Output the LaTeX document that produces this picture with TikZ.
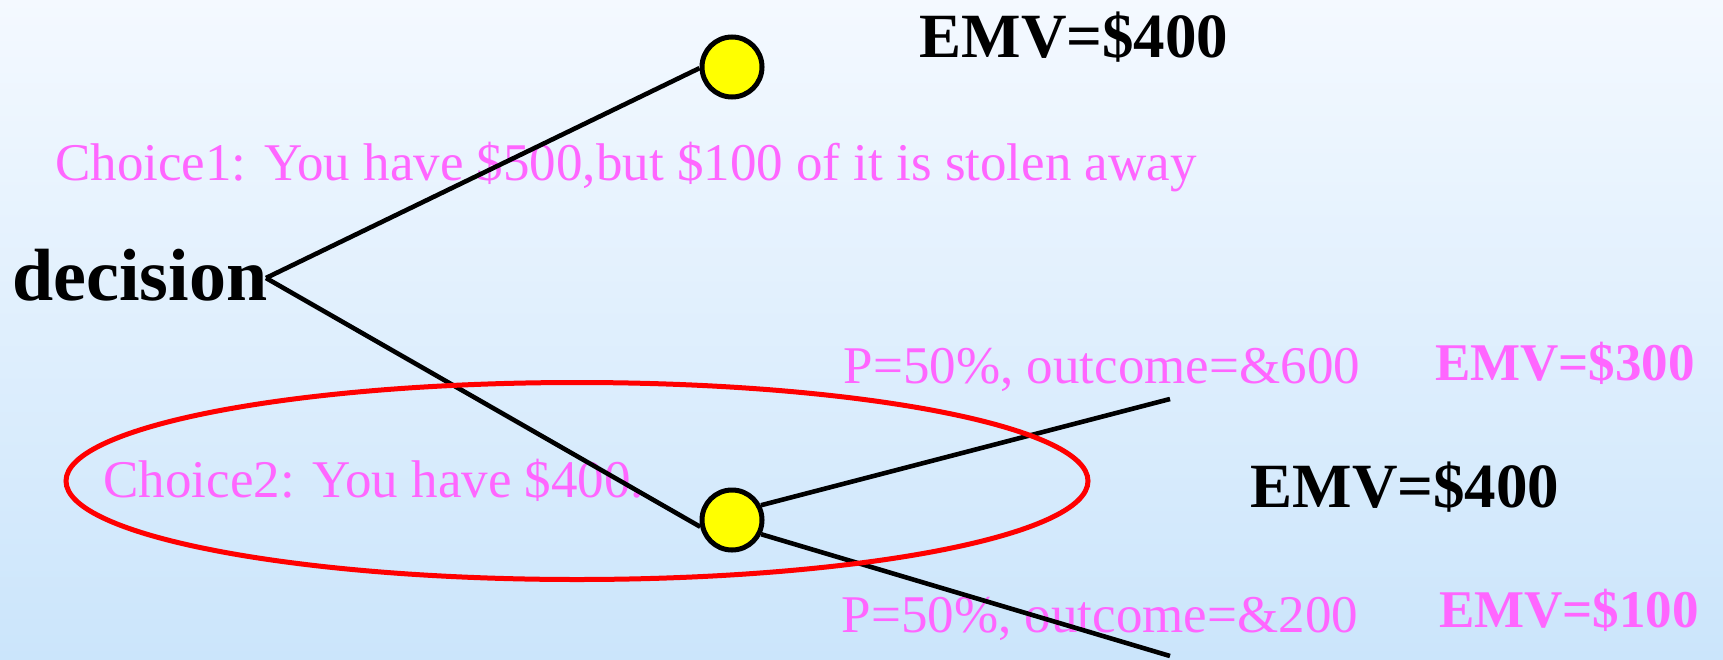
\documentclass[tikz,border=0pt]{standalone}
\usepackage{fontspec}
\setmainfont{Liberation Serif}
\definecolor{pinktxt}{HTML}{FF66FF}
\definecolor{bgtop}{HTML}{F4F9FF}
\definecolor{bgbot}{HTML}{CBE5FB}
\definecolor{chance}{HTML}{FFFF00}
\begin{document}
\begin{tikzpicture}[x=0.5pt,y=-0.5pt,
  regtext/.style={inner sep=0pt, text=pinktxt, font=\fontsize{26.5pt}{30pt}\selectfont},
  emvpink/.style={inner sep=0pt, text=pinktxt, font=\fontsize{26.5pt}{30pt}\selectfont\bfseries},
  emvblack/.style={inner sep=0pt, text=black, font=\fontsize{31.5pt}{36pt}\selectfont\bfseries},
  chancenode/.style={circle, draw=black, line width=2.5pt, fill=chance, minimum size=30pt, inner sep=0pt},
  branch/.style={draw=black, line width=2.3pt},
  groupring/.style={draw=red, line width=2.5pt}]
\useasboundingbox (0,0) rectangle (1723,659);
\shade[top color=bgtop, bottom color=bgbot] (0,0) rectangle (1723,659);
% texts
\node[inner sep=0pt, font=\fontsize{37pt}{42pt}\selectfont\bfseries, anchor=base west] (decision) at (12,300) {decision};
\node[emvblack, anchor=base] (emvtop) at (1074,57) {EMV=\$400};
\node[regtext, anchor=base] (choice1) at (626,180) {Choice1: You have \$500,but \$100 of it is stolen away};
\node[regtext, anchor=base west] (choice2) at (103,497) {Choice2: You have \$400.};
\node[regtext, anchor=base] (p600) at (1102,383) {P=50\%, outcome=\&600};
\node[regtext, anchor=base] (p200) at (1100,632) {P=50\%, outcome=\&200};
\node[emvpink, anchor=base] (emv300) at (1565,380) {EMV=\$300};
\node[emvpink, anchor=base] (emv100) at (1569,627) {EMV=\$100};
\node[emvblack, anchor=base] (emvmid) at (1405,507) {EMV=\$400};
% tree
\coordinate (j) at (266,278);
\node[chancenode] (c1) at (732,67) {};
\node[chancenode] (c2) at (732,520) {};
\coordinate (e1) at (1170,399);
\coordinate (e2) at (1170,656);
\draw[branch] (j) -- (c1.182);
\draw[branch] (j) -- (c2.192);
\draw[branch] (c2.27) -- (e1);
\draw[branch] (c2.-26) -- (e2);
% ring
\draw[groupring] (577,481) ellipse [x radius=511, y radius=98.5];
\end{tikzpicture}
\end{document}
